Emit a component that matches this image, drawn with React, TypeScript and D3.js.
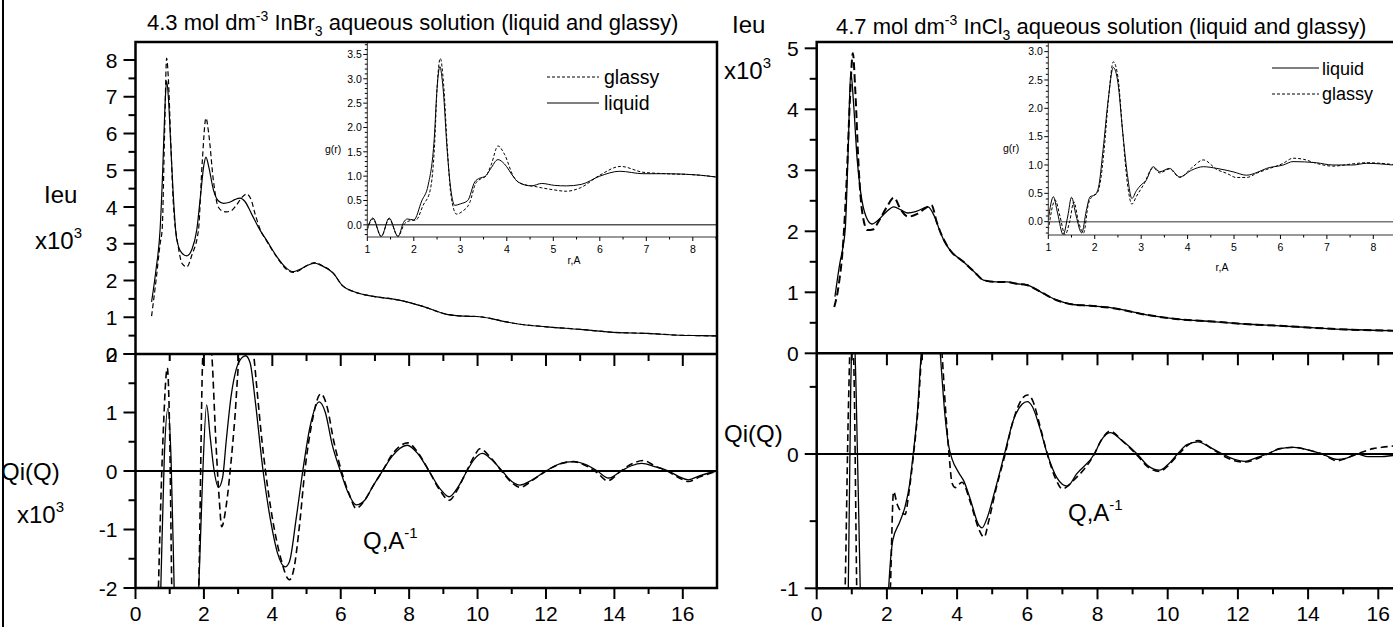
import React from 'react';
import * as d3 from 'd3';

type P = [number, number];

// ---------------- DATA ----------------
// InBr3 panel, upper: Ieu (x10^3) vs Q
const inbrIeuLiquid: P[] = [[0.47,1.42],[0.6,2.3],[0.72,3.4],[0.8,5.1],[0.86,6.7],[0.91,7.43],[0.96,7.0],[1.03,5.7],[1.1,4.4],[1.2,3.15],[1.35,2.75],[1.5,2.67],[1.65,2.85],[1.79,3.37],[1.9,4.3],[2.0,5.15],[2.06,5.36],[2.14,5.1],[2.28,4.46],[2.42,4.17],[2.57,4.1],[2.75,4.13],[2.9,4.2],[3.06,4.24],[3.2,4.15],[3.4,3.8],[3.64,3.37],[3.83,3.1],[4.13,2.65],[4.42,2.33],[4.61,2.24],[4.8,2.3],[5.0,2.4],[5.25,2.47],[5.45,2.4],[5.78,2.2],[6.05,1.86],[6.37,1.7],[6.76,1.6],[7.15,1.54],[7.5,1.5],[7.93,1.42],[8.42,1.29],[9.1,1.08],[9.6,1.03],[9.98,1.02],[10.37,0.97],[10.8,0.88],[11.24,0.81],[12.02,0.74],[13.0,0.67],[13.97,0.59],[14.95,0.56],[15.92,0.51],[16.5,0.5],[17.0,0.49]];
const inbrIeuGlassy: P[] = [[0.47,1.03],[0.6,2.0],[0.72,3.0],[0.78,3.4],[0.85,6.0],[0.91,8.05],[0.96,7.5],[1.03,5.8],[1.1,4.2],[1.25,2.92],[1.37,2.45],[1.5,2.37],[1.65,2.7],[1.84,3.37],[1.95,5.2],[2.06,6.42],[2.14,6.0],[2.28,4.7],[2.42,4.0],[2.57,3.88],[2.67,3.87],[2.8,3.9],[2.95,4.05],[3.1,4.25],[3.25,4.35],[3.38,4.2],[3.5,3.8],[3.64,3.4],[3.83,3.08],[4.13,2.64],[4.42,2.3],[4.61,2.22],[4.8,2.28],[5.0,2.4],[5.25,2.49],[5.45,2.41],[5.78,2.2],[6.05,1.86],[6.37,1.7],[6.76,1.6],[7.15,1.54],[7.5,1.5],[7.93,1.42],[8.42,1.29],[9.1,1.08],[9.6,1.03],[9.98,1.02],[10.37,0.97],[10.8,0.88],[11.24,0.81],[12.02,0.74],[13.0,0.67],[13.97,0.59],[14.95,0.56],[15.92,0.51],[16.5,0.5],[17.0,0.49]];
// InBr3 panel, lower: Qi(Q) (x10^3) vs Q
const inbrQiLiquid: P[] = [[0.6,-5],[0.74,-2],[0.84,0.2],[0.95,1.07],[1.04,0.2],[1.13,-2],[1.25,-5],[1.5,-6],[1.72,-4],[1.85,-2],[1.95,-0.3],[2.08,1.13],[2.18,0.6],[2.3,0.0],[2.43,-0.28],[2.55,-0.1],[2.65,0.5],[2.8,1.3],[2.95,1.75],[3.1,1.93],[3.22,1.97],[3.35,1.85],[3.5,1.2],[3.73,0.0],[3.95,-0.85],[4.15,-1.4],[4.37,-1.64],[4.5,-1.55],[4.7,-0.8],[4.89,0.0],[5.1,0.75],[5.37,1.18],[5.55,1.0],[5.75,0.45],[5.99,0.0],[6.2,-0.35],[6.45,-0.58],[6.7,-0.5],[6.95,-0.25],[7.22,0.0],[7.5,0.25],[7.94,0.44],[8.25,0.3],[8.58,0.0],[8.9,-0.3],[9.17,-0.44],[9.4,-0.3],[9.69,0.0],[9.9,0.2],[10.14,0.3],[10.4,0.2],[10.72,0.0],[11.0,-0.18],[11.24,-0.24],[11.6,-0.15],[12.0,0.0],[12.4,0.12],[12.8,0.16],[13.2,0.1],[13.5,0.0],[13.83,-0.12],[14.2,0.0],[14.5,0.09],[14.8,0.13],[15.2,0.07],[15.58,0.0],[15.9,-0.1],[16.16,-0.15],[16.5,-0.08],[17.0,0.0]];
const inbrQiGlassy: P[] = [[0.55,-5],[0.67,-2],[0.8,0.5],[0.93,1.76],[1.0,0.6],[1.06,-2],[1.2,-5],[1.5,-6],[1.72,-4],[1.85,-2],[1.97,2.0],[2.1,2.6],[2.23,2.0],[2.35,0.5],[2.45,-0.5],[2.52,-0.95],[2.65,-0.6],[2.8,0.2],[2.9,0.87],[3.04,2.0],[3.25,2.4],[3.45,2.0],[3.55,1.4],[3.7,0.5],[3.8,0.0],[4.0,-0.8],[4.25,-1.5],[4.5,-1.86],[4.62,-1.7],[4.8,-0.9],[4.95,0.0],[5.15,0.8],[5.42,1.32],[5.6,1.1],[5.8,0.5],[6.02,0.0],[6.25,-0.4],[6.45,-0.64],[6.7,-0.5],[6.95,-0.25],[7.22,0.0],[7.5,0.28],[7.96,0.48],[8.25,0.32],[8.58,0.0],[8.9,-0.33],[9.17,-0.5],[9.4,-0.33],[9.68,0.0],[9.9,0.25],[10.07,0.38],[10.35,0.25],[10.7,0.0],[11.0,-0.2],[11.24,-0.28],[11.6,-0.16],[12.0,0.0],[12.4,0.12],[12.8,0.16],[13.2,0.08],[13.5,-0.03],[13.8,-0.17],[14.15,-0.02],[14.5,0.12],[14.85,0.18],[15.2,0.08],[15.55,0.0],[15.9,-0.12],[16.16,-0.18],[16.5,-0.1],[17.0,0.0]];
// InBr3 inset: g(r)
const inbrGrLiquid: P[] = [[1.0,-0.07],[1.12,0.14],[1.3,-0.24],[1.47,0.14],[1.66,-0.24],[1.78,0.05],[1.86,0.12],[2.0,0.1],[2.17,0.49],[2.31,0.82],[2.44,1.78],[2.5,2.8],[2.56,3.25],[2.63,2.8],[2.72,1.5],[2.8,0.7],[2.88,0.4],[3.0,0.43],[3.16,0.5],[3.31,0.88],[3.42,0.96],[3.53,0.99],[3.65,1.15],[3.81,1.34],[3.95,1.25],[4.14,0.99],[4.24,0.88],[4.53,0.8],[4.75,0.85],[5.03,0.81],[5.28,0.8],[5.6,0.83],[6.0,1.0],[6.43,1.1],[6.93,1.05],[7.43,1.05],[8.15,1.02],[8.52,0.98]];
const inbrGrGlassy: P[] = [[1.0,-0.1],[1.12,0.12],[1.3,-0.24],[1.47,0.12],[1.66,-0.24],[1.8,0.02],[1.9,0.08],[2.05,0.1],[2.2,0.4],[2.35,0.7],[2.45,1.7],[2.5,2.8],[2.57,3.42],[2.64,2.9],[2.72,1.6],[2.8,0.6],[2.92,0.22],[3.05,0.28],[3.2,0.45],[3.33,0.85],[3.45,0.95],[3.55,1.0],[3.67,1.25],[3.81,1.62],[3.95,1.45],[4.14,1.0],[4.3,0.85],[4.65,0.78],[4.75,0.76],[5.0,0.72],[5.28,0.69],[5.58,0.76],[6.0,1.02],[6.45,1.2],[6.93,1.08],[7.43,1.05],[8.15,1.02],[8.52,0.98]];

// InCl3 panel, upper
const inclIeuLiquid: P[] = [[0.52,0.93],[0.66,1.48],[0.75,1.75],[0.82,2.1],[0.9,3.4],[0.97,4.62],[1.05,4.1],[1.15,3.2],[1.25,2.65],[1.4,2.25],[1.57,2.12],[1.75,2.18],[1.95,2.3],[2.2,2.4],[2.4,2.35],[2.6,2.3],[2.85,2.33],[3.17,2.4],[3.35,2.25],[3.5,2.02],[3.65,1.82],[3.8,1.69],[4.18,1.5],[4.5,1.33],[4.75,1.2],[5.1,1.17],[5.41,1.17],[5.7,1.14],[5.98,1.12],[6.4,1.0],[6.84,0.87],[7.3,0.8],[7.79,0.78],[8.45,0.74],[9.4,0.63],[10.3,0.56],[11.3,0.52],[12.2,0.48],[13.2,0.45],[14.1,0.42],[15.1,0.39],[16.45,0.37]];
const inclIeuGlassy: P[] = [[0.5,0.76],[0.62,1.09],[0.76,1.86],[0.85,2.8],[0.95,4.2],[1.03,4.92],[1.1,4.3],[1.2,3.0],[1.3,2.3],[1.45,2.02],[1.6,2.03],[1.8,2.2],[2.0,2.4],[2.2,2.55],[2.4,2.35],[2.6,2.24],[2.85,2.28],[3.1,2.38],[3.27,2.43],[3.42,2.15],[3.55,1.95],[3.7,1.78],[3.8,1.69],[4.18,1.5],[4.5,1.33],[4.75,1.2],[5.1,1.17],[5.41,1.17],[5.7,1.14],[5.98,1.12],[6.4,1.0],[6.84,0.87],[7.3,0.8],[7.79,0.78],[8.45,0.74],[9.4,0.63],[10.3,0.56],[11.3,0.52],[12.2,0.48],[13.2,0.45],[14.1,0.42],[15.1,0.39],[16.45,0.37]];
// InCl3 panel, lower
const inclQiLiquid: P[] = [[0.5,-4],[0.8,-1.5],[0.9,-1.0],[0.97,0.5],[1.05,1.0],[1.12,0.5],[1.24,-1.0],[1.4,-2.5],[1.7,-3],[1.95,-1.6],[2.05,-1.0],[2.17,-0.64],[2.36,-0.51],[2.52,-0.39],[2.65,-0.22],[2.74,-0.02],[2.86,0.28],[2.98,0.76],[3.15,1.3],[3.3,1.4],[3.45,1.0],[3.52,0.75],[3.65,0.3],[3.76,0.06],[3.86,-0.04],[4.05,-0.14],[4.19,-0.2],[4.38,-0.34],[4.62,-0.53],[4.71,-0.55],[4.85,-0.48],[5.1,-0.25],[5.35,0.0],[5.6,0.25],[5.85,0.37],[6.0,0.39],[6.15,0.35],[6.35,0.2],[6.57,0.0],[6.85,-0.18],[7.14,-0.24],[7.4,-0.15],[7.91,0.0],[8.1,0.1],[8.36,0.16],[8.7,0.1],[9.13,0.0],[9.45,-0.09],[9.77,-0.12],[10.0,-0.08],[10.28,0.0],[10.55,0.07],[10.86,0.09],[11.2,0.05],[11.56,0.0],[11.9,-0.04],[12.2,-0.055],[12.5,-0.03],[12.84,0.0],[13.2,0.04],[13.6,0.05],[14.0,0.03],[14.4,0.0],[14.83,-0.04],[15.1,-0.03],[15.4,0.0],[15.7,-0.02],[16.0,-0.02],[16.45,-0.01]];
const inclQiGlassy: P[] = [[0.5,-4],[0.75,-1.5],[0.81,-1.0],[0.9,0.3],[1.0,1.1],[1.07,0.5],[1.14,-1.0],[1.3,-2.5],[1.7,-3],[2.0,-1.8],[2.1,-1.0],[2.19,-0.28],[2.3,-0.38],[2.52,-0.45],[2.62,-0.3],[2.76,0.0],[2.9,0.38],[3.0,0.8],[3.2,1.4],[3.4,1.3],[3.57,0.75],[3.68,0.3],[3.76,0.03],[3.86,-0.22],[3.95,-0.25],[4.14,-0.21],[4.38,-0.36],[4.62,-0.56],[4.77,-0.62],[4.9,-0.5],[5.1,-0.27],[5.35,-0.02],[5.6,0.25],[5.85,0.41],[6.0,0.44],[6.15,0.4],[6.35,0.22],[6.57,0.0],[6.8,-0.18],[7.0,-0.26],[7.3,-0.2],[7.91,0.0],[8.1,0.1],[8.36,0.17],[8.7,0.1],[9.13,-0.01],[9.45,-0.1],[9.77,-0.13],[10.0,-0.09],[10.28,-0.01],[10.55,0.06],[10.86,0.1],[11.2,0.05],[11.56,-0.01],[11.9,-0.05],[12.2,-0.06],[12.5,-0.04],[12.84,0.0],[13.2,0.04],[13.6,0.05],[14.0,0.03],[14.4,0.0],[14.83,-0.05],[15.1,-0.03],[15.4,0.0],[15.85,0.04],[16.1,0.05],[16.45,0.06]];
// InCl3 inset: g(r)
const inclGrLiquid: P[] = [[1.0,0.03],[1.11,0.44],[1.2,0.15],[1.32,-0.23],[1.42,0.1],[1.5,0.43],[1.6,0.1],[1.72,-0.2],[1.82,0.2],[1.9,0.44],[2.0,0.47],[2.08,0.6],[2.18,1.27],[2.29,2.15],[2.4,2.72],[2.5,2.45],[2.6,1.6],[2.7,0.85],[2.8,0.41],[2.9,0.55],[3.0,0.65],[3.1,0.72],[3.26,0.97],[3.4,0.88],[3.61,0.94],[3.83,0.79],[4.09,0.91],[4.34,0.97],[4.63,0.94],[4.98,0.88],[5.27,0.82],[5.5,0.87],[5.7,0.94],[6.06,1.0],[6.27,1.06],[6.77,1.04],[7.13,1.0],[7.56,1.0],[7.85,1.03],[8.42,1.0]];
const inclGrGlassy: P[] = [[1.0,-0.15],[1.15,0.38],[1.25,0.1],[1.36,-0.23],[1.46,0.0],[1.55,0.35],[1.65,0.0],[1.76,-0.2],[1.86,0.3],[1.95,0.45],[2.05,0.5],[2.12,0.7],[2.2,1.25],[2.3,2.2],[2.4,2.82],[2.5,2.55],[2.6,1.6],[2.7,0.7],[2.8,0.31],[2.9,0.45],[3.05,0.65],[3.26,0.95],[3.4,0.86],[3.61,0.93],[3.83,0.78],[4.09,0.95],[4.34,1.09],[4.63,0.92],[4.85,0.85],[5.05,0.78],[5.27,0.78],[5.5,0.86],[5.7,0.92],[6.06,1.03],[6.27,1.12],[6.5,1.1],[6.77,1.03],[7.13,0.98],[7.56,1.02],[7.85,1.04],[8.42,1.01]];

// Tick values / labels
const qMajor = [0, 2, 4, 6, 8, 10, 12, 14, 16];
const qMinor = [1, 3, 5, 7, 9, 11, 13, 15];
const inbrIeuTicks = [0, 1, 2, 3, 4, 5, 6, 7, 8];
const inbrQiTicks = [-2, -1, 0, 1, 2];
const inclIeuTicks = [0, 1, 2, 3, 4, 5];
const inclQiTicks = [-1, 0];
const inbrGrTicks = [0, 0.5, 1, 1.5, 2, 2.5, 3, 3.5];
const inclGrTicks = [0, 0.5, 1, 1.5, 2, 2.5, 3];
const rTicks = [1, 2, 3, 4, 5, 6, 7, 8];

// ---------------- DRAWING ----------------
const FN = "'Liberation Sans Narrow','Arial Narrow','Liberation Sans',Arial,sans-serif";
const FR = "'Liberation Sans',Arial,sans-serif";

const range = (a: number, b: number, s: number) => d3.range(a, b + 1e-9, s).map(v => +v.toFixed(4));

function Curve({ data, x, y, dash, w, clip }: any) {
  const line = d3.line<P>().x(d => x(d[0])).y(d => y(d[1])).curve(d3.curveMonotoneX);
  return <path d={line(data) || ''} fill="none" stroke="#000" strokeWidth={w} strokeDasharray={dash} strokeLinejoin="round" clipPath={clip ? `url(#${clip})` : undefined} />;
}

function YTicks({ s, x, major, minor, len, mlen, sw, fs, gap, font, fmt }: any) {
  return <g>
    {minor.map((v: number) => <line key={'m' + v} x1={x - mlen} x2={x} y1={s(v)} y2={s(v)} stroke="#000" strokeWidth={sw} />)}
    {major.map((v: number) => <line key={'M' + v} x1={x - len} x2={x} y1={s(v)} y2={s(v)} stroke="#000" strokeWidth={sw} />)}
    {major.map((v: number) => <text key={'t' + v} x={x - len - gap} y={s(v)} dy="0.36em" textAnchor="end" fontSize={fs} fontFamily={font}>{fmt ? fmt(v) : String(v)}</text>)}
  </g>;
}

function XTicks({ s, y, major, minor, len, mlen, sw, fs, off, font, labels = true }: any) {
  return <g>
    {minor.map((v: number) => <line key={'m' + v} x1={s(v)} x2={s(v)} y1={y} y2={y + mlen} stroke="#000" strokeWidth={sw} />)}
    {major.map((v: number) => <line key={'M' + v} x1={s(v)} x2={s(v)} y1={y} y2={y + len} stroke="#000" strokeWidth={sw} />)}
    {labels && major.map((v: number) => <text key={'t' + v} x={s(v)} y={y + off} textAnchor="middle" fontSize={fs} fontFamily={font}>{String(v)}</text>)}
  </g>;
}

export default function App() {
  // ---- left panel (InBr3)
  const L = { l: 135.5, r: 717, t: 42, m: 354, b: 588 };
  const xL = d3.scaleLinear().domain([0, 17]).range([L.l, L.r]);
  const yLU = d3.scaleLinear().domain([0, 8.49]).range([L.m, L.t]);
  const yLL = d3.scaleLinear().domain([-2, 2]).range([L.b, L.m]);
  // ---- right panel (InCl3)
  const R = { l: 816.7, r: 1395, t: 42, m: 353.3, b: 588.3 };
  const xR = d3.scaleLinear().domain([0, (R.r - R.l) / 35.1]).range([R.l, R.r]);
  const yRU = d3.scaleLinear().domain([0, (R.m - R.t) / 61]).range([R.m, R.t]);
  const yRL = d3.scaleLinear().domain([-1, 0.75]).range([R.b, R.m]);
  // ---- insets
  const IL = { l: 367.3, r: 717, t: 42, b: 237 };
  const xIL = d3.scaleLinear().domain([1, 1 + (IL.r - IL.l) / 46.5]).range([IL.l, IL.r]);
  const yIL = d3.scaleLinear().domain([-0.25, 3.77]).range([IL.b, IL.t - 0.7]);
  const IR = { l: 1048.3, r: 1395, t: 42, b: 235 };
  const xIR = d3.scaleLinear().domain([1, 1 + (IR.r - IR.l) / 46.43]).range([IR.l, IR.r]);
  const yIR = d3.scaleLinear().domain([-0.235, 3.17]).range([IR.b, IR.t]);

  const fsTick = 21;
  const fsLab = 24;
  const fsTitle = 22;
  const one = (v: number) => v.toFixed(1);

  return (
    <svg width={1393} height={627} style={{ position: 'absolute', left: 0, top: 0, background: '#fff' }}>
      <defs>
        <clipPath id="cLU"><rect x={L.l} y={L.t} width={L.r - L.l} height={L.m - L.t} /></clipPath>
        <clipPath id="cLL"><rect x={L.l} y={L.m} width={L.r - L.l} height={L.b - L.m} /></clipPath>
        <clipPath id="cRU"><rect x={R.l} y={R.t} width={R.r - R.l} height={R.m - R.t} /></clipPath>
        <clipPath id="cRL"><rect x={R.l} y={R.m} width={R.r - R.l} height={R.b - R.m} /></clipPath>
        <clipPath id="cIL"><rect x={IL.l} y={IL.t} width={IL.r - IL.l} height={IL.b - IL.t} /></clipPath>
        <clipPath id="cIR"><rect x={IR.l} y={IR.t} width={IR.r - IR.l} height={IR.b - IR.t} /></clipPath>
      </defs>
      <rect x={0} y={0} width={1393} height={627} fill="#fff" />
      <line x1={3} x2={3} y1={0} y2={627} stroke="#000" strokeWidth={2} />

      {/* ===== Left panel ===== */}
      <text x={147} y={30} fontSize={fsTitle} fontFamily={FR}>4.3 mol dm<tspan dy={-9} fontSize={14}>-3</tspan><tspan dy={9}>{' InBr'}</tspan><tspan dy={6} fontSize={14}>3</tspan><tspan dy={-6}>{' aqueous solution (liquid and glassy)'}</tspan></text>

      {/* inset */}
      <line x1={IL.l} x2={IL.r} y1={yIL(0)} y2={yIL(0)} stroke="#000" strokeWidth={1} />
      <Curve data={inbrGrGlassy} x={xIL} y={yIL} dash="3,2" w={1} clip="cIL" />
      <Curve data={inbrGrLiquid} x={xIL} y={yIL} w={1} clip="cIL" />
      <line x1={IL.l} x2={IL.l} y1={IL.t} y2={IL.b} stroke="#333" strokeWidth={1} />
      <line x1={IL.l} x2={IL.r} y1={IL.b} y2={IL.b} stroke="#333" strokeWidth={1} />
      <YTicks s={yIL} x={IL.l} major={inbrGrTicks} minor={range(-0.2, 3.7, 0.1).filter(v => Math.abs(v * 2 - Math.round(v * 2)) > 1e-6)} len={4} mlen={2.5} sw={1} fs={10.5} gap={1.5} font={FR} fmt={one} />
      <XTicks s={xIL} y={IL.b} major={rTicks} minor={range(1.5, 8.5, 1)} len={4} mlen={2.5} sw={1} fs={10.5} off={16} font={FR} />
      <text x={325} y={153} fontSize={10.5} fontFamily={FR}>g(r)</text>
      <text x={574} y={264} fontSize={10.5} fontFamily={FR} textAnchor="middle">r,A</text>
      <line x1={547} x2={599} y1={77} y2={77} stroke="#000" strokeWidth={1} strokeDasharray="3,2" />
      <text x={604} y={84} fontSize={19.5} fontFamily={FR}>glassy</text>
      <line x1={547} x2={599} y1={103} y2={103} stroke="#000" strokeWidth={1} />
      <text x={604} y={110} fontSize={19.5} fontFamily={FR}>liquid</text>

      {/* main curves */}
      <Curve data={inbrIeuGlassy} x={xL} y={yLU} dash="5,3" w={1.2} clip="cLU" />
      <Curve data={inbrIeuLiquid} x={xL} y={yLU} w={1.2} clip="cLU" />
      <line x1={L.l} x2={L.r} y1={yLL(0)} y2={yLL(0)} stroke="#000" strokeWidth={2} />
      <Curve data={inbrQiGlassy} x={xL} y={yLL} dash="7,4" w={1.6} clip="cLL" />
      <Curve data={inbrQiLiquid} x={xL} y={yLL} w={1.3} clip="cLL" />

      {/* frame */}
      <rect x={L.l} y={L.t} width={L.r - L.l} height={L.b - L.t} fill="none" stroke="#000" strokeWidth={2.5} />
      <line x1={L.l} x2={L.r} y1={L.m} y2={L.m} stroke="#000" strokeWidth={2.5} />
      <YTicks s={yLU} x={L.l} major={inbrIeuTicks} minor={range(0.5, 8, 1)} len={12} mlen={7} sw={2} fs={fsTick} gap={6} font={FN} />
      <YTicks s={yLL} x={L.l} major={inbrQiTicks} minor={[-1.5, -0.5, 0.5, 1.5]} len={12} mlen={7} sw={2} fs={fsTick} gap={6} font={FN} />
      <XTicks s={xL} y={L.m} major={qMajor.filter(v => v > 0)} minor={qMinor} len={12} mlen={7} sw={2} labels={false} />
      <XTicks s={xL} y={L.b} major={qMajor} minor={qMinor} len={11} mlen={6} sw={2} fs={fsTick} off={33} font={FN} />

      <text x={44} y={203} fontSize={fsLab} fontFamily={FN}>Ieu</text>
      <text x={35} y={249} fontSize={fsLab} fontFamily={FN}>x10<tspan dy={-11} fontSize={15}>3</tspan></text>
      <text x={1} y={480} fontSize={fsLab} fontFamily={FN}>Qi(Q)</text>
      <text x={17} y={523} fontSize={fsLab} fontFamily={FN}>x10<tspan dy={-11} fontSize={15}>3</tspan></text>
      <text x={363} y={549} fontSize={fsLab} fontFamily={FN}>Q,A<tspan dy={-11} fontSize={15}>-1</tspan></text>

      {/* ===== Right panel ===== */}
      <text x={836} y={34} fontSize={fsTitle} fontFamily={FR}>4.7 mol dm<tspan dy={-9} fontSize={14}>-3</tspan><tspan dy={9}>{' InCl'}</tspan><tspan dy={6} fontSize={14}>3</tspan><tspan dy={-6}>{' aqueous solution (liquid and glassy)'}</tspan></text>

      <line x1={IR.l} x2={IR.r} y1={yIR(0)} y2={yIR(0)} stroke="#777" strokeWidth={1.5} />
      <Curve data={inclGrGlassy} x={xIR} y={yIR} dash="3,2" w={1} clip="cIR" />
      <Curve data={inclGrLiquid} x={xIR} y={yIR} w={1} clip="cIR" />
      <line x1={IR.l} x2={IR.l} y1={IR.t} y2={IR.b} stroke="#333" strokeWidth={1} />
      <line x1={IR.l} x2={IR.r} y1={IR.b} y2={IR.b} stroke="#333" strokeWidth={1} />
      <YTicks s={yIR} x={IR.l} major={inclGrTicks} minor={range(-0.2, 3.1, 0.1).filter(v => Math.abs(v * 2 - Math.round(v * 2)) > 1e-6)} len={4} mlen={2.5} sw={1} fs={10.5} gap={1.5} font={FR} fmt={one} />
      <XTicks s={xIR} y={IR.b} major={rTicks} minor={range(1.5, 8.0, 1)} len={4} mlen={2.5} sw={1} fs={10.5} off={16} font={FR} />
      <text x={1003} y={152} fontSize={10.5} fontFamily={FR}>g(r)</text>
      <text x={1222} y={271} fontSize={10.5} fontFamily={FR} textAnchor="middle">r,A</text>
      <line x1={1272} x2={1319} y1={68} y2={68} stroke="#000" strokeWidth={1} />
      <text x={1322} y={75} fontSize={18} fontFamily={FR}>liquid</text>
      <line x1={1272} x2={1319} y1={94} y2={94} stroke="#000" strokeWidth={1} strokeDasharray="3,2" />
      <text x={1322} y={100} fontSize={18} fontFamily={FR}>glassy</text>

      <Curve data={inclIeuGlassy} x={xR} y={yRU} dash="8,4" w={2} clip="cRU" />
      <Curve data={inclIeuLiquid} x={xR} y={yRU} w={1.3} clip="cRU" />
      <line x1={R.l} x2={R.r} y1={yRL(0)} y2={yRL(0)} stroke="#000" strokeWidth={2} />
      <Curve data={inclQiGlassy} x={xR} y={yRL} dash="7,4" w={1.6} clip="cRL" />
      <Curve data={inclQiLiquid} x={xR} y={yRL} w={1.3} clip="cRL" />

      <rect x={R.l} y={R.t} width={R.r - R.l} height={R.b - R.t} fill="none" stroke="#000" strokeWidth={2.5} />
      <line x1={R.l} x2={R.r} y1={R.m} y2={R.m} stroke="#000" strokeWidth={2.5} />
      <YTicks s={yRU} x={R.l} major={inclIeuTicks} minor={range(0.5, 5, 1)} len={12} mlen={7} sw={2} fs={fsTick} gap={6} font={FN} />
      <YTicks s={yRL} x={R.l} major={inclQiTicks} minor={[-0.5, 0.5]} len={12} mlen={7} sw={2} fs={fsTick} gap={6} font={FN} />
      <XTicks s={xR} y={R.m} major={qMajor.filter(v => v > 0)} minor={qMinor} len={12} mlen={7} sw={2} labels={false} />
      <XTicks s={xR} y={R.b} major={qMajor} minor={qMinor} len={11} mlen={6} sw={2} fs={fsTick} off={33} font={FN} />

      <text x={732} y={33} fontSize={fsLab} fontFamily={FN}>Ieu</text>
      <text x={724} y={79} fontSize={fsLab} fontFamily={FN}>x10<tspan dy={-11} fontSize={15}>3</tspan></text>
      <text x={724} y={442} fontSize={fsLab} fontFamily={FN}>Qi(Q)</text>
      <text x={1068} y={521} fontSize={fsLab} fontFamily={FN}>Q,A<tspan dy={-11} fontSize={15}>-1</tspan></text>
    </svg>
  );
}
